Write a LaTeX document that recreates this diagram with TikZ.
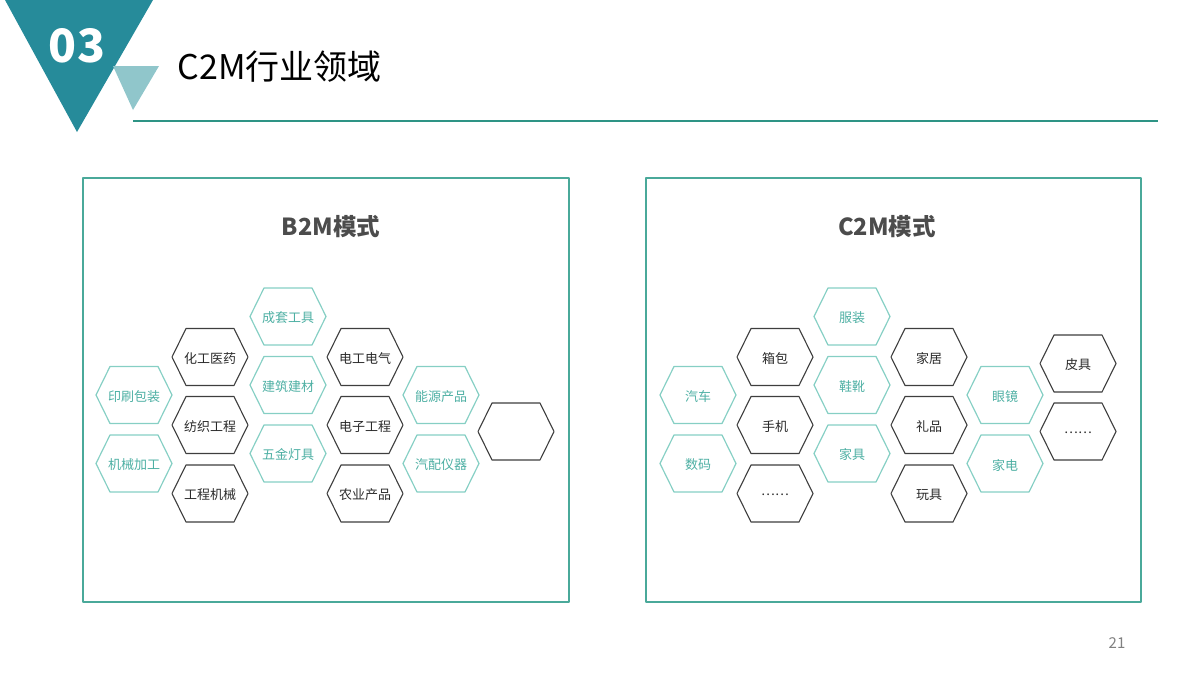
\documentclass[tikz,border=0pt]{standalone}
\usepackage{fontspec}
\setmainfont{Noto Sans CJK SC}
\usepackage{tikz}
\usepackage{xcolor}

\definecolor{deepteal}{HTML}{268B9A}
\definecolor{paleteal}{HTML}{90C6CB}
\definecolor{rulegreen}{HTML}{2E9485}
\definecolor{boxgreen}{HTML}{4AA99A}
\definecolor{hexgreen}{HTML}{86CFC4}
\definecolor{labgreen}{HTML}{4DAFA3}
\definecolor{hexgray}{HTML}{3E3E3E}
\definecolor{labgray}{HTML}{2A2A2A}

% one cell: #1 = kind (teal/dark), #2 = name, #3 = centre, #4 = label
\newcommand\hexcell[4]{%
  \draw[#1line] (#3) +(-38,0) -- +(-24,-28.5) -- +(24,-28.5) -- +(38,0)
    -- +(24,28.5) -- +(-24,28.5) -- cycle;
  \node[#1txt] (#2) at (#3) {#4};}

\begin{document}
\begin{tikzpicture}[x=1pt,y=-1pt,line join=round,
  tealtxt/.style={text=labgreen,font=\fontsize{13}{15}\selectfont,inner sep=0pt,yshift=-1.5pt},
  darktxt/.style={text=labgray,font=\fontsize{13}{15}\selectfont,inner sep=0pt,yshift=-1.5pt},
  tealline/.style={draw=hexgreen,line width=1.2pt},
  darkline/.style={draw=hexgray,line width=1.1pt},
  panel/.style={draw=boxgreen,line width=1.6pt},
  heading/.style={text=black!70,font=\fontsize{23.5}{28}\selectfont\bfseries}]
\useasboundingbox (0,0) rectangle (1200,675);

% header
\fill[deepteal] (5,0) -- (153,0) -- (77,132) -- cycle;
\fill[paleteal] (113,66) -- (159,66) -- (133,110) -- cycle;
\node[text=white,font=\fontsize{46}{50}\selectfont\bfseries] (num) at (77,46) {03};
\node[anchor=west,font=\fontsize{34}{38}\selectfont] (title) at (174,67) {C2M行业领域};
\draw[rulegreen,line width=2pt] (133,121) -- (1158,121);

% panels
\draw[panel] (83,178) rectangle (569,602);
\draw[panel] (646,178) rectangle (1141,602);
\node[heading] (btitle) at (331,227) {B2M模式};
\node[heading] (ctitle) at (887,227) {C2M模式};

% B2M cells
\hexcell{teal}{b1}{288,316.5}{成套工具}
\hexcell{dark}{b2}{210,357}{化工医药}
\hexcell{dark}{b3}{365,357}{电工电气}
\hexcell{teal}{b4}{134,395}{印刷包装}
\hexcell{teal}{b5}{288,385}{建筑建材}
\hexcell{teal}{b6}{441,395}{能源产品}
\hexcell{dark}{b7}{210,425}{纺织工程}
\hexcell{dark}{b8}{365,425}{电子工程}
\hexcell{dark}{b9}{516,431.5}{}
\hexcell{teal}{b10}{134,463.5}{机械加工}
\hexcell{teal}{b11}{288,453.5}{五金灯具}
\hexcell{teal}{b12}{441,463.5}{汽配仪器}
\hexcell{dark}{b13}{210,493.5}{工程机械}
\hexcell{dark}{b14}{365,493.5}{农业产品}

% C2M cells
\hexcell{teal}{c1}{852,316.5}{服装}
\hexcell{dark}{c2}{775,357}{箱包}
\hexcell{dark}{c3}{929,357}{家居}
\hexcell{teal}{c4}{698,395}{汽车}
\hexcell{teal}{c5}{852,385}{鞋靴}
\hexcell{teal}{c6}{1005,395}{眼镜}
\hexcell{dark}{c7}{1078,363.5}{皮具}
\hexcell{dark}{c8}{775,425}{手机}
\hexcell{dark}{c9}{929,425}{礼品}
\hexcell{dark}{c10}{1078,431.5}{……}
\hexcell{teal}{c11}{698,463.5}{数码}
\hexcell{teal}{c12}{852,453.5}{家具}
\hexcell{teal}{c13}{1005,463.5}{家电}
\hexcell{dark}{c14}{775,493.5}{……}
\hexcell{dark}{c15}{929,493.5}{玩具}

\node[text=black!50,font=\fontsize{15}{17}\selectfont] (page) at (1117,643) {21};
\end{tikzpicture}
\end{document}
